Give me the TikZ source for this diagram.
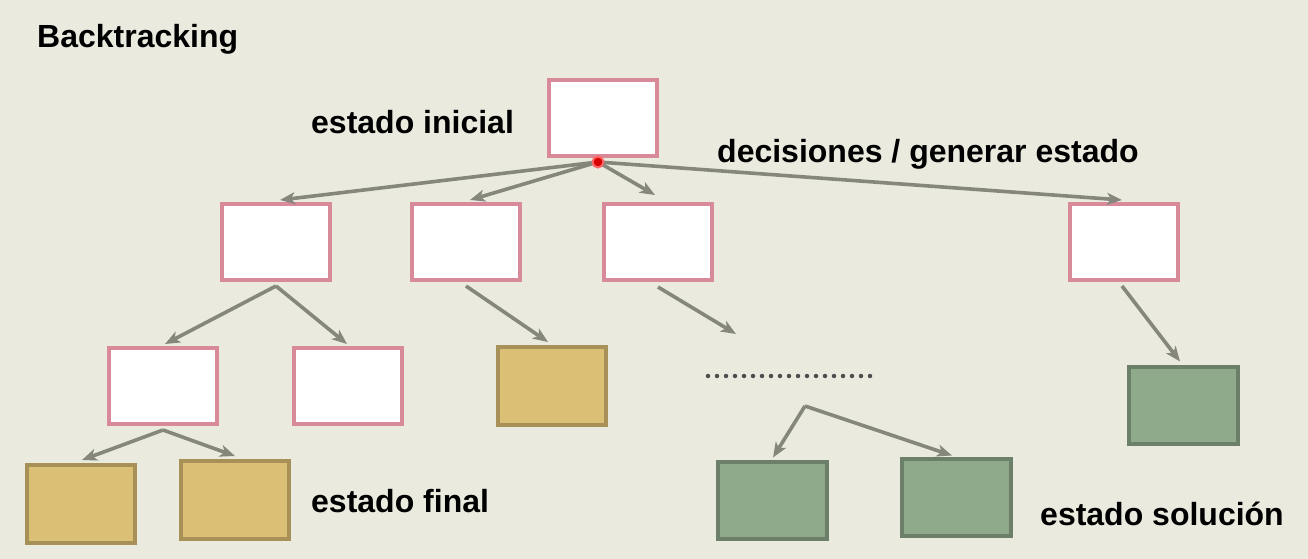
\documentclass[tikz,border=0pt]{standalone}
\usepackage{fontspec}
\setmainfont{Liberation Sans}
\usetikzlibrary{arrows.meta,calc}
\definecolor{bgc}{HTML}{EAEADF}
\definecolor{pinkc}{HTML}{D8899A}
\definecolor{arrc}{HTML}{85877D}
\definecolor{goldf}{HTML}{DBBF74}
\definecolor{goldd}{HTML}{A89158}
\definecolor{greenf}{HTML}{8FAA8B}
\definecolor{greend}{HTML}{6B7F69}
\begin{document}
\begin{tikzpicture}[x=1pt,y=-1pt,
  pinkbox/.style={draw=pinkc,line width=4pt,fill=white,minimum width=108pt,minimum height=76pt,inner sep=0pt},
  goldbox/.style={draw=goldd,line width=4pt,fill=goldf,minimum width=108pt,minimum height=78pt,inner sep=0pt},
  greenbox/.style={draw=greend,line width=4pt,fill=greenf,minimum width=109pt,minimum height=77pt,inner sep=0pt},
  conn/.style={draw=arrc,line width=3.6pt,-{Stealth[length=15pt,width=12pt,inset=4pt]}},
  lbl/.style={anchor=base west,inner sep=0pt,font=\fontsize{32}{38}\selectfont\bfseries}
]
\fill[bgc] (0,0) rectangle (1308,559);
\useasboundingbox (0,0) rectangle (1308,559);

\node[lbl] (title) at (37,48) {Backtracking};
\node[lbl] (tini) at (311,133) {estado inicial};
\node[lbl] (tdec) at (717,162) {decisiones / generar estado};
\node[lbl] (tfin) at (311,512) {estado final};
\node[lbl] (tsol) at (1040,525) {estado solución};

\node[pinkbox] (root) at (603,118) {};
\node[pinkbox] (a) at (276,242) {};
\node[pinkbox] (b) at (466,242) {};
\node[pinkbox] (c) at (658,242) {};
\node[pinkbox] (d) at (1124,242) {};
\node[pinkbox] (aa) at (163,386) {};
\node[pinkbox] (ab) at (348,386) {};
\node[goldbox] (ba) at (552,386) {};
\node[greenbox] (da) at (1183,405) {};
\node[goldbox] (aaa) at (81,504) {};
\node[goldbox] (aab) at (235,500) {};
\node[greenbox] (ca) at (772,500) {};
\node[greenbox] (cb) at (956,497) {};

\coordinate (rs) at ($(root.south)+(-5,4)$);
\coordinate (cend) at (736,334);
\coordinate (br) at (805,406);
\coordinate (dotl) at (708,376);
\coordinate (dotr) at (870,376);

\draw[conn] (rs) -- ($(a.north)+(4,-2)$);
\draw[conn] (rs) -- ($(b.north)+(4,-2)$);
\draw[conn] (rs) -- ($(c.north)+(-3,-7)$);
\draw[conn] (rs) -- ($(d.north)+(-2,-2)$);
\draw[conn] ($(a.south)+(0,4)$) -- ($(aa.north)+(2,-2)$);
\draw[conn] ($(a.south)+(0,4)$) -- ($(ab.north)+(-1,-2)$);
\draw[conn] ($(b.south)+(0,4)$) -- ($(ba.north)+(-4,-3)$);
\draw[conn] ($(c.south)+(0,5)$) -- (cend);
\draw[conn] ($(d.south)+(-2,4)$) -- ($(da.north)+(-3,-3)$);
\draw[conn] ($(aa.south)+(0,4)$) -- ($(aaa.north)+(1,-3)$);
\draw[conn] ($(aa.south)+(0,4)$) -- ($(aab.north)+(0,-3)$);
\draw[conn] (br) -- ($(ca.north)+(1,-2)$);
\draw[conn] (br) -- ($(cb.north)+(-4,-1)$);

\draw[draw=black!70,line width=4.5pt,line cap=round,dash pattern=on 0pt off 9pt] (dotl) -- (dotr);

\node[circle,fill=red!85!black,draw=red!60,line width=2pt,minimum size=11pt,inner sep=0pt] (dot) at (598,162) {};
\end{tikzpicture}
\end{document}
